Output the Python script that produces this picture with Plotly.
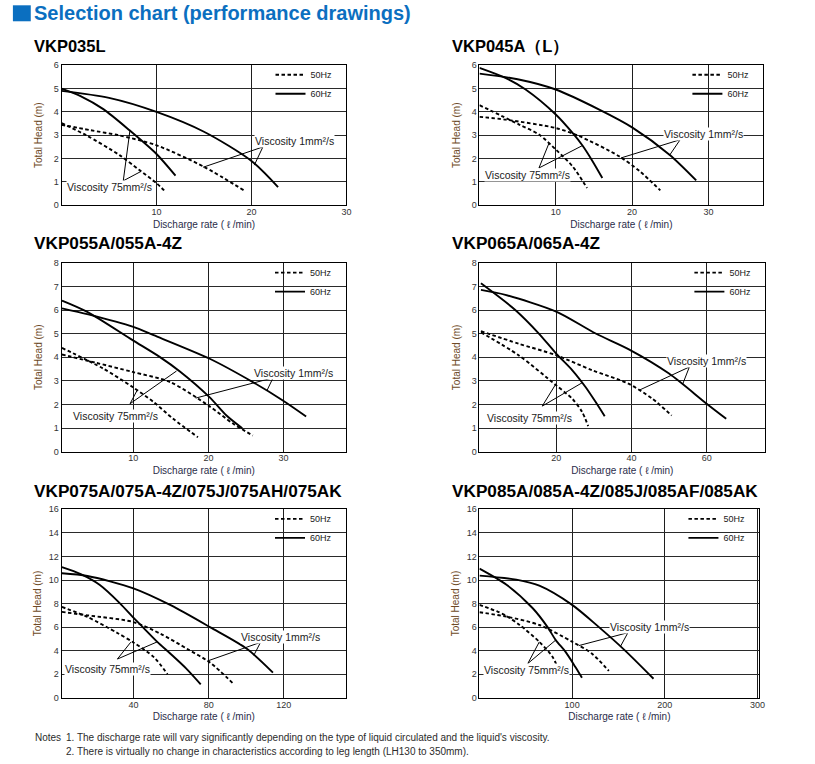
import plotly.graph_objects as go

FIG_W, FIG_H = 815, 764
FONT = "Liberation Sans, Arial, Helvetica, sans-serif"

# ------------------------------------------------------------------ text
HEADER = "Selection chart (performance drawings)"
MODELS = ["VKP035L", "VKP045A（L）", "VKP055A/055A-4Z", "VKP065A/065A-4Z",
          "VKP075A/075A-4Z/075J/075AH/075AK", "VKP085A/085A-4Z/085J/085AF/085AK"]
X_TITLE = "Discharge rate ( ℓ /min)"
Y_TITLE = "Total Head (m)"
HZ50, HZ60 = "50Hz", "60Hz"
VISC_LOW = "Viscosity 1mm²/s"
VISC_HIGH = "Viscosity 75mm²/s"
NOTES_HEAD = "Notes"
NOTE_1 = "1. The discharge rate will vary significantly depending on the type of liquid circulated and the liquid's viscosity."
NOTE_2 = "2. There is virtually no change in characteristics according to leg length (LH130 to 350mm)."

# ------------------------------------------------------------------ axes
X_TICKS = [[10, 20, 30], [10, 20, 30], [10, 20, 30], [20, 40, 60], [40, 80, 120], [100, 200, 300]]
Y_TICKS = [list(range(0, 7)), list(range(0, 7)), list(range(0, 9)), list(range(0, 9)),
           list(range(0, 17, 2)), list(range(0, 17, 2))]
X_RANGES = [[0, 30], [0, 37.2], [0.44, 38.3], [-0.4, 75.6], [1.8, 153], [0, 302]]
Y_RANGES = [[0, 6], [0, 6], [0, 8], [0, 8], [0, 16], [0, 16]]

# ------------------------------------------------------------------ curves (Q l/min, H m)
# VKP035L
C1_60_1MM_Q = [0, 5, 10, 15, 20, 22.8]
C1_60_1MM_H = [4.9, 4.6, 4.0, 3.15, 1.9, 0.78]
C1_60_75_Q = [0, 2, 4.4, 7.2, 10, 12]
C1_60_75_H = [5.0, 4.68, 4.12, 3.2, 2.2, 1.27]
C1_50_1MM_Q = [0, 3, 6, 10, 15, 19.4]
C1_50_1MM_H = [3.45, 3.22, 3.0, 2.57, 1.65, 0.59]
C1_50_75_Q = [0, 2.6, 6.1, 8.2, 10, 11]
C1_50_75_H = [3.52, 3.0, 2.15, 1.51, 0.95, 0.56]
# VKP045A (L)
C2_60_1MM_Q = [0, 5, 10, 15.7, 20, 24.9, 28.4]
C2_60_1MM_H = [5.64, 5.4, 4.96, 4.1, 3.34, 2.17, 1.07]
C2_60_75_Q = [0, 3.4, 6.05, 10, 12.2, 13.5, 14.8, 16.1]
C2_60_75_H = [5.89, 5.46, 4.96, 3.89, 3.1, 2.56, 1.9, 1.17]
C2_50_1MM_Q = [0, 3.4, 10, 13.1, 18.3, 21, 23.7]
C2_50_1MM_H = [3.79, 3.67, 3.31, 2.96, 2.1, 1.46, 0.64]
C2_50_75_Q = [0, 5.2, 7.8, 10, 12.2, 14.1]
C2_50_75_H = [4.29, 3.46, 3.03, 2.39, 1.67, 0.74]
# VKP055A/055A-4Z
C3_60_1MM_Q = [0.5, 4, 9.9, 12.7, 20.1, 25.9, 29.9, 33]
C3_60_1MM_H = [6.08, 5.82, 5.3, 4.94, 3.95, 2.95, 2.17, 1.49]
C3_60_75_Q = [0.5, 3.8, 9.9, 13.5, 16.2, 20.1, 22.4, 24.5]
C3_60_75_H = [6.41, 5.94, 4.73, 4.02, 3.4, 2.32, 1.53, 0.99]
C3_50_1MM_Q = [0.5, 5, 9.9, 14.9, 20.1, 23.3, 25.9]
C3_50_1MM_H = [4.12, 3.77, 3.38, 2.95, 1.93, 1.18, 0.68]
C3_50_75_Q = [0.5, 6.0, 9.9, 12.7, 15.3, 18.6]
C3_50_75_H = [4.4, 3.52, 2.74, 2.1, 1.39, 0.61]
# VKP065A/065A-4Z
C4_60_1MM_Q = [0, 6.5, 20, 30.5, 39.2, 50, 60, 65.2]
C4_60_1MM_H = [6.86, 6.65, 5.94, 5.01, 4.35, 3.31, 2.03, 1.39]
C4_60_75_Q = [0, 9.2, 15.4, 20, 24.3, 27.8, 30.5, 32.9]
C4_60_75_H = [7.14, 6.0, 5.01, 4.16, 3.45, 2.74, 2.1, 1.5]
C4_50_1MM_Q = [0, 10, 20, 29.6, 39.2, 45.6, 50.7]
C4_50_1MM_H = [5.11, 4.58, 4.09, 3.45, 2.88, 2.24, 1.53]
C4_50_75_Q = [0, 10, 20, 24.3, 26.9, 28.5]
C4_50_75_H = [5.06, 4.09, 2.81, 2.24, 1.68, 1.08]
# VKP075A/075A-4Z/075J/075AH/075AK
C5_60_1MM_Q = [2, 15.6, 40, 59.8, 80.7, 100.5, 114.2]
C5_60_1MM_H = [10.57, 10.34, 9.29, 7.86, 6.0, 4.14, 2.14]
C5_60_75_Q = [2, 12, 22, 33, 40, 45, 52.7, 60, 68, 75.8]
C5_60_75_H = [11.09, 10.5, 9.6, 8.0, 6.8, 6.0, 4.75, 3.7, 2.5, 1.14]
C5_50_1MM_Q = [2, 15.6, 40, 54.5, 68.7, 80.7, 93.5]
C5_50_1MM_H = [7.29, 7.0, 6.43, 5.43, 4.14, 3.0, 1.14]
C5_50_75_Q = [2, 15.6, 31.5, 40, 51, 58.1]
C5_50_75_H = [7.71, 6.86, 5.5, 4.7, 3.43, 2.0]
# VKP085A/085A-4Z/085J/085AF/085AK
C6_60_1MM_Q = [0, 39.8, 64.6, 100, 128.3, 156.6, 187.8]
C6_60_1MM_H = [10.37, 10.03, 9.52, 7.89, 6.04, 4.05, 1.62]
C6_60_75_Q = [0, 29.2, 57.5, 73.5, 82.3, 92.9, 103.5, 110.6]
C6_60_75_H = [10.97, 9.6, 7.6, 6.0, 4.9, 3.9, 2.62, 1.71]
C6_50_1MM_Q = [0, 29.2, 64.6, 100, 121.2, 139.6]
C6_50_1MM_H = [7.26, 6.89, 6.18, 4.76, 3.76, 2.28]
C6_50_75_Q = [0, 20, 29, 43.4, 64.6, 78.8, 88.7]
C6_50_75_H = [7.89, 7.3, 6.95, 6.18, 4.75, 3.48, 1.71]

CURVES = [
    (C1_50_1MM_Q, C1_50_1MM_H, C1_50_75_Q, C1_50_75_H, C1_60_1MM_Q, C1_60_1MM_H, C1_60_75_Q, C1_60_75_H),
    (C2_50_1MM_Q, C2_50_1MM_H, C2_50_75_Q, C2_50_75_H, C2_60_1MM_Q, C2_60_1MM_H, C2_60_75_Q, C2_60_75_H),
    (C3_50_1MM_Q, C3_50_1MM_H, C3_50_75_Q, C3_50_75_H, C3_60_1MM_Q, C3_60_1MM_H, C3_60_75_Q, C3_60_75_H),
    (C4_50_1MM_Q, C4_50_1MM_H, C4_50_75_Q, C4_50_75_H, C4_60_1MM_Q, C4_60_1MM_H, C4_60_75_Q, C4_60_75_H),
    (C5_50_1MM_Q, C5_50_1MM_H, C5_50_75_Q, C5_50_75_H, C5_60_1MM_Q, C5_60_1MM_H, C5_60_75_Q, C5_60_75_H),
    (C6_50_1MM_Q, C6_50_1MM_H, C6_50_75_Q, C6_50_75_H, C6_60_1MM_Q, C6_60_1MM_H, C6_60_75_Q, C6_60_75_H),
]

# ------------------------------------------------------------------ viscosity labels (data coords)
# label anchor (Q, H) and leader lines [Q0, H0, Q1, H1]
LOW_LABEL = [[24.5, 2.74], [29.3, 3.07], [31.3, 3.35], [60, 3.84], [118.2, 5.2], [183.2, 6.04]]
LOW_LEADERS = [
    [[21.2, 2.5, 14.9, 1.63], [21.2, 2.5, 20.3, 1.72]],
    [[26.3, 2.81, 18.55, 2.03], [26.3, 2.81, 24.9, 2.14]],
    [[28.6, 3.13, 18.3, 2.27], [28.6, 3.13, 27.8, 2.6]],
    [[55.4, 3.59, 42, 2.6], [55.4, 3.59, 53.6, 2.85]],
    [[107.6, 4.71, 79.3, 3.12], [107.6, 4.71, 104, 3.6]],
    [[160.2, 5.53, 107.1, 4.43], [160.2, 5.53, 152.4, 4.4]],
]
HIGH_LABEL = [[5.0, 0.78], [6.27, 1.31], [7.68, 1.5], [12.9, 1.42], [26.2, 2.43], [50.4, 2.34]]
HIGH_LEADERS = [
    [[6.5, 1.05, 7.2, 3.2], [6.5, 1.05, 8.4, 1.46]],
    [[7.8, 1.6, 9.1, 2.65], [7.8, 1.6, 13.5, 2.56]],
    [[9.56, 2.03, 10.5, 2.6], [9.56, 2.03, 15.75, 3.42]],
    [[16.3, 1.93, 19.8, 2.84], [16.3, 1.93, 26.9, 2.92]],
    [[31.5, 3.29, 38.6, 4.72], [31.5, 3.29, 52.7, 4.75]],
    [[52.2, 2.91, 64.6, 4.75], [52.2, 2.91, 82.3, 4.9]],
]

# ------------------------------------------------------------------ layout (pixels)
BOXES = [  # left, right, top, bottom
    (62, 349, 61, 203), (483, 769, 61, 203),
    (62, 348.5, 261.5, 452.5), (483, 771, 261.5, 452.5),
    (62, 348.5, 511, 702), (483, 765, 511, 702),
]
TITLE_POS = [(32, 42), (453, 42), (32, 241.5), (453, 241.5), (32, 492), (453, 492)]
TITLE_SIZE = [16.5, 16.5, 17.2, 17.2, 17.2, 17.2]
Y_STANDOFF = [9, 9, 9, 9, 5, 5]

BLUE = "#0b6fc0"
INK = "#1a1a1a"


def px(x):
    return x / FIG_W


def py(y):
    return 1 - y / FIG_H


fig = go.Figure()
annotations = []
layout = {}

for i in range(6):
    n = i + 1
    xa = "x" if n == 1 else f"x{n}"
    ya = "y" if n == 1 else f"y{n}"
    lg = "legend" if n == 1 else f"legend{n}"
    q50a, h50a, q50b, h50b, q60a, h60a, q60b, h60b = CURVES[i]
    dash = "3.5px,2.5px"
    series = [
        (q50a, h50a, dash, HZ50, True),
        (q50b, h50b, dash, HZ50, False),
        (q60a, h60a, "solid", HZ60, True),
        (q60b, h60b, "solid", HZ60, False),
    ]
    for q, h, d, name, show in series:
        fig.add_trace(go.Scatter(
            x=q, y=h, mode="lines", name=name, showlegend=show, legend=lg,
            legendgroup=f"{name}{n}",
            line=dict(color="black", width=1.9, dash=d, shape="spline", smoothing=0.8),
            xaxis=xa, yaxis=ya, hoverinfo="skip"))

    # leader lines
    lx, ly = [], []
    for seg in LOW_LEADERS[i] + HIGH_LEADERS[i]:
        lx += [seg[0], seg[2], None]
        ly += [seg[1], seg[3], None]
    fig.add_trace(go.Scatter(x=lx, y=ly, mode="lines", showlegend=False,
                             line=dict(color="black", width=1),
                             xaxis=xa, yaxis=ya, hoverinfo="skip"))

    for (tx, ty), txt in ((LOW_LABEL[i], VISC_LOW), (HIGH_LABEL[i], VISC_HIGH)):
        annotations.append(dict(x=tx, y=ty, xref=xa, yref=ya, text=txt, showarrow=False,
                                xanchor="center", yanchor="middle", bgcolor="white",
                                borderpad=0, font=dict(family=FONT, size=10.5, color=INK)))

    l, r, t, b = BOXES[i]
    layout["xaxis" if n == 1 else f"xaxis{n}"] = dict(
        domain=[px(l), px(r)], anchor=ya, range=X_RANGES[i],
        tickmode="array", tickvals=X_TICKS[i], ticks="", ticklabelstandoff=-2,
        showgrid=True, gridcolor="#1e1e1e", gridwidth=1,
        showline=True, mirror=True, linecolor="black", linewidth=1,
        zeroline=False, tickfont=dict(family=FONT, size=9, color="#333"),
        title=dict(text=X_TITLE, standoff=4, font=dict(family=FONT, size=10, color="#2a2d4a")))
    layout["yaxis" if n == 1 else f"yaxis{n}"] = dict(
        domain=[py(b), py(t)], anchor=xa, range=Y_RANGES[i],
        tickmode="array", tickvals=Y_TICKS[i], ticks="",
        showgrid=True, gridcolor="#2a2a2a", gridwidth=1.3,
        showline=True, mirror=True, linecolor="black", linewidth=1,
        zeroline=False, tickfont=dict(family=FONT, size=9, color="#333"),
        title=dict(text=Y_TITLE, standoff=Y_STANDOFF[i], font=dict(family=FONT, size=10, color="#6e4a26")))
    layout[lg] = dict(x=px(r - 9), xanchor="right", y=py(t - 5), yanchor="top",
                      bgcolor="rgba(0,0,0,0)", borderwidth=0, itemwidth=30, tracegroupgap=0,
                      font=dict(family=FONT, size=9, color=INK))

    tx, ty = TITLE_POS[i]
    annotations.append(dict(x=px(tx), y=py(ty), xref="paper", yref="paper", text=MODELS[i],
                            showarrow=False, xanchor="left", yanchor="middle",
                            font=dict(family=FONT, size=TITLE_SIZE[i], color="black", weight="bold")))

annotations.append(dict(x=px(32.5), y=py(8), xref="paper", yref="paper", text=HEADER,
                        showarrow=False, xanchor="left", yanchor="middle",
                        font=dict(family=FONT, size=20, color=BLUE, weight="bold")))
annotations.append(dict(x=px(33), y=py(742), xref="paper", yref="paper", text=NOTES_HEAD,
                        showarrow=False, xanchor="left", yanchor="middle",
                        font=dict(family=FONT, size=10, color="#2b2b2b")))
annotations.append(dict(x=px(64), y=py(742), xref="paper", yref="paper", text=NOTE_1,
                        showarrow=False, xanchor="left", yanchor="middle",
                        font=dict(family=FONT, size=10, color="#2b2b2b")))
annotations.append(dict(x=px(64), y=py(756), xref="paper", yref="paper", text=NOTE_2,
                        showarrow=False, xanchor="left", yanchor="middle",
                        font=dict(family=FONT, size=10, color="#2b2b2b")))

fig.update_layout(
    width=FIG_W, height=FIG_H, margin=dict(l=0, r=0, t=0, b=0),
    paper_bgcolor="white", plot_bgcolor="white",
    font=dict(family=FONT, color=INK),
    annotations=annotations,
    shapes=[dict(type="rect", xref="paper", yref="paper", x0=px(13), x1=px(31),
                 y0=py(16.5), y1=py(0.3), fillcolor=BLUE, line=dict(width=0))],
    **layout,
)

fig.write_html(
    "out.html",
    config={"displayModeBar": False},
    post_script=("document.documentElement.style.margin='0px';"
                 "document.body.style.margin='0px';"
                 "document.documentElement.style.overflow='hidden';"
                 "document.body.style.overflow='hidden';"),
)
